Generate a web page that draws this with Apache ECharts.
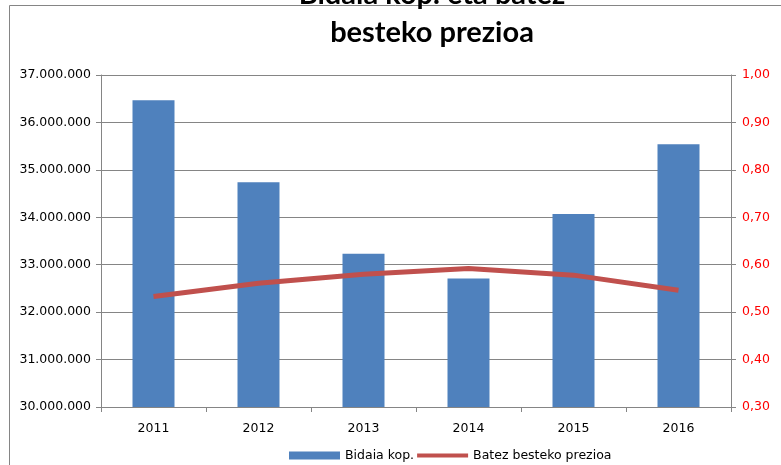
<!DOCTYPE html>
<html>
<head>
<meta charset="utf-8">
<script src="https://cdn.jsdelivr.net/npm/echarts@6/dist/echarts.min.js"></script>
<style>
html,body{margin:0;padding:0;background:#fff;}
#chart{width:781px;height:465px;}
</style>
</head>
<body>
<div id="chart"></div>
<script>
var categories = ['2011', '2012', '2013', '2014', '2015', '2016'];
var tripsCount = [36470000, 34740000, 33230000, 32710000, 34070000, 35540000];
var avgPrice = [0.533, 0.561, 0.580, 0.592, 0.578, 0.546];
var seriesNames = ['Bidaia kop.', 'Batez besteko prezioa'];
var titleLines = ['Bidaia kop. eta batez', 'besteko prezioa'];

var gridColor = '#858585';
var chart = echarts.init(document.getElementById('chart'), null, {renderer: 'canvas'});

function dots(v) {
  return String(Math.round(v)).replace(/\B(?=(\d{3})+(?!\d))/g, '.');
}
function comma(v) {
  return v.toFixed(2).replace('.', ',');
}

var option = {
  animation: false,
  backgroundColor: '#ffffff',
  textStyle: {fontFamily: 'DejaVu Sans'},
  graphic: [
    {type: 'line', z: 0, shape: {x1: 9.5, y1: 5.5, x2: 781, y2: 5.5}, style: {stroke: gridColor, lineWidth: 1}},
    {type: 'line', z: 0, shape: {x1: 9.5, y1: 5.5, x2: 9.5, y2: 465}, style: {stroke: gridColor, lineWidth: 1}},
    {type: 'text', z: 10, style: {text: titleLines[0], x: 432, y: -5, align: 'center', verticalAlign: 'middle',
      font: 'bold 29px Lato', fill: '#000'}},
    {type: 'text', z: 10, style: {text: titleLines[1], x: 432, y: 33, align: 'center', verticalAlign: 'middle',
      font: 'bold 29px Lato', fill: '#000'}}
  ],
  grid: {left: 101, right: 50, top: 75, bottom: 58, containLabel: false},
  legend: {
    left: 284, top: 444,
    itemWidth: 51, itemHeight: 8, itemGap: 3,
    textStyle: {fontFamily: 'DejaVu Sans', fontSize: 12.5, color: '#000'},
    data: [
      {name: seriesNames[0], icon: 'rect'},
      {name: seriesNames[1], icon: 'path://M0,0H50V4H0Z'}
    ]
  },
  xAxis: {
    type: 'category',
    data: categories,
    boundaryGap: true,
    axisLine: {lineStyle: {color: gridColor, width: 1}},
    axisTick: {show: true, length: 5, alignWithLabel: false, lineStyle: {color: gridColor}},
    axisLabel: {color: '#000', fontSize: 12.5, fontFamily: 'DejaVu Sans', margin: 15}
  },
  yAxis: [
    {
      type: 'value', min: 30000000, max: 37000000, interval: 1000000,
      axisLine: {show: true, lineStyle: {color: gridColor, width: 1}},
      axisTick: {show: true, length: 5, lineStyle: {color: gridColor}},
      splitLine: {show: true, lineStyle: {color: gridColor, width: 1}},
      axisLabel: {color: '#000', fontSize: 12.5, fontFamily: 'DejaVu Sans', margin: 10, formatter: dots}
    },
    {
      type: 'value', min: 0.3, max: 1.0, interval: 0.1, position: 'right',
      axisLine: {show: true, lineStyle: {color: gridColor, width: 1}},
      axisTick: {show: true, length: 5, lineStyle: {color: gridColor}},
      splitLine: {show: false},
      axisLabel: {color: '#ff0000', fontSize: 12.5, fontFamily: 'DejaVu Sans', margin: 11, formatter: comma}
    }
  ],
  series: [
    {
      name: seriesNames[0], type: 'bar', data: tripsCount, yAxisIndex: 0,
      barWidth: 42, itemStyle: {color: '#4F81BD'}
    },
    {
      name: seriesNames[1], type: 'line', data: avgPrice, yAxisIndex: 1,
      symbol: 'none', showSymbol: false,
      lineStyle: {color: '#C0504D', width: 5}, itemStyle: {color: '#C0504D'}, z: 5
    }
  ]
};
chart.setOption(option);
</script>
</body>
</html>
